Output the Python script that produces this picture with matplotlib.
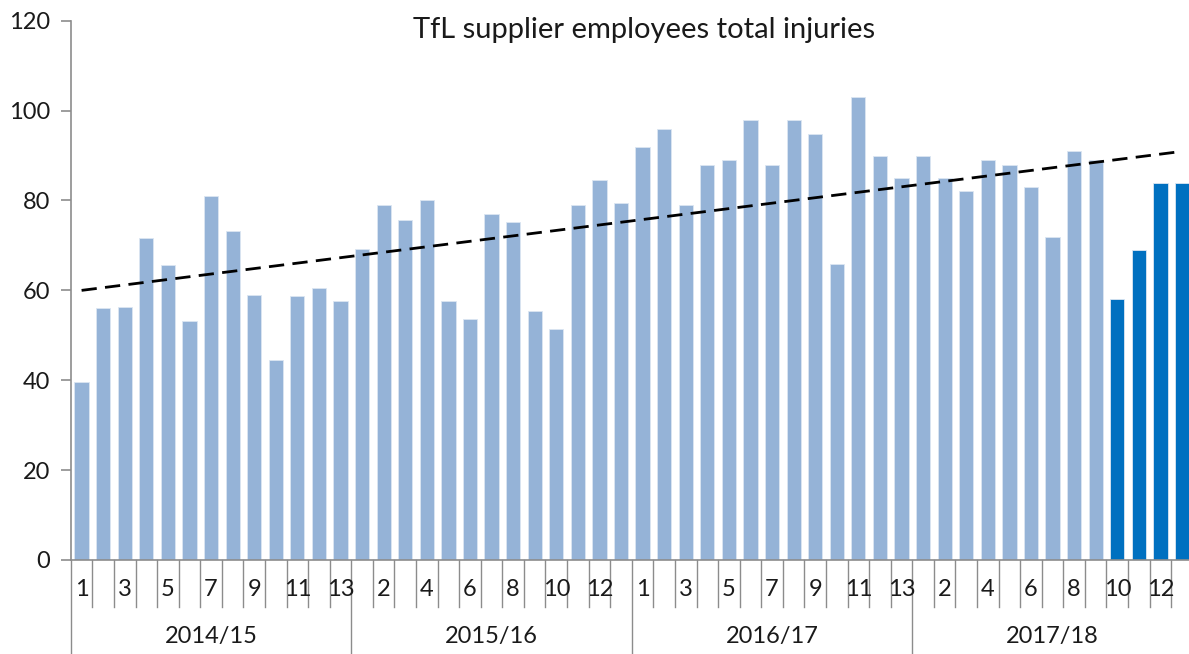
import matplotlib
matplotlib.use("Agg")
import matplotlib.pyplot as plt
import matplotlib.transforms as mtransforms
import numpy as np

years = ["2014/15", "2015/16", "2016/17", "2017/18"]
periods = list(range(1, 14))

injuries = [
    39.6, 56.0, 56.3, 71.6, 65.6, 53.1, 81.0, 73.1, 59.0, 44.5, 58.7, 60.6, 57.6,
    69.2, 79.1, 75.7, 80.1, 57.6, 53.6, 77.0, 75.1, 55.4, 51.4, 79.1, 84.5, 79.5,
    92.0, 95.9, 79.0, 88.0, 88.9, 97.9, 88.0, 97.9, 94.9, 65.9, 103.0, 90.0, 85.0,
    90.0, 85.0, 82.0, 88.9, 88.0, 82.9, 71.9, 90.9, 88.9, 58.1, 69.0, 83.9, 83.9,
]
# the last four periods are shown in the darker colour
n_recent = 4

light = "#95b3d7"
dark = "#0070c0"
grey = "#8c8c8c"

plt.rcParams['font.family'] = ['Lato', 'DejaVu Sans']

fig = plt.figure(figsize=(11.89, 6.54), dpi=100)
# axes runs a little past the right edge, as in the original
ax = fig.add_axes([70.8 / 1189, 94 / 654, 1122 / 1189, 539.3 / 654])

n = len(injuries)
x = np.arange(n)
colors = [light] * (n - n_recent) + [dark] * n_recent
ax.bar(x, injuries, width=0.66, color=colors, edgecolor="#dce6f2", linewidth=0.6, zorder=2)

# linear trendline
k, b = np.polyfit(x, injuries, 1)
ax.plot([x[0], x[-1]], [k * x[0] + b, k * x[-1] + b], color="black", lw=2,
        dashes=(5.5, 3), zorder=3)

ax.set_xlim(-0.5, n - 0.5)
ax.set_ylim(0, 120)
ax.set_yticks(range(0, 121, 20))
ax.tick_params(axis="y", direction="out", length=7, width=1.2, color=grey,
               labelsize=17, pad=8, labelcolor="#1a1a1a")
ax.set_xticks([])
for s in ["top", "right"]:
    ax.spines[s].set_visible(False)
for s in ["left", "bottom"]:
    ax.spines[s].set_color(grey)
    ax.spines[s].set_linewidth(1.2)

# two-level category axis
trans = mtransforms.blended_transform_factory(ax.transData, ax.transAxes)
h = 539.3
for i in range(n + 1):
    low = -94 / h if i % 13 == 0 else -47 / h
    ax.plot([i - 0.5, i - 0.5], [0, low], color=grey, lw=1, transform=trans, clip_on=False)

labels = [str(p) for y in years for p in periods]
for i, lab in enumerate(labels):
    if i % 2 == 0:
        ax.text(i, -30 / h, lab, transform=trans, ha="center", va="center",
                fontsize=17, color="#1a1a1a")
for j, yr in enumerate(years):
    ax.text(j * 13 + 6, -77 / h, yr, transform=trans, ha="center", va="center",
            fontsize=17, color="#1a1a1a")

fig.text(644 / 1189, 1 - 30 / 654, "TfL supplier employees total injuries",
         ha="center", va="center", fontsize=21, color="#1a1a1a")

fig.savefig("out.png", dpi=100)
